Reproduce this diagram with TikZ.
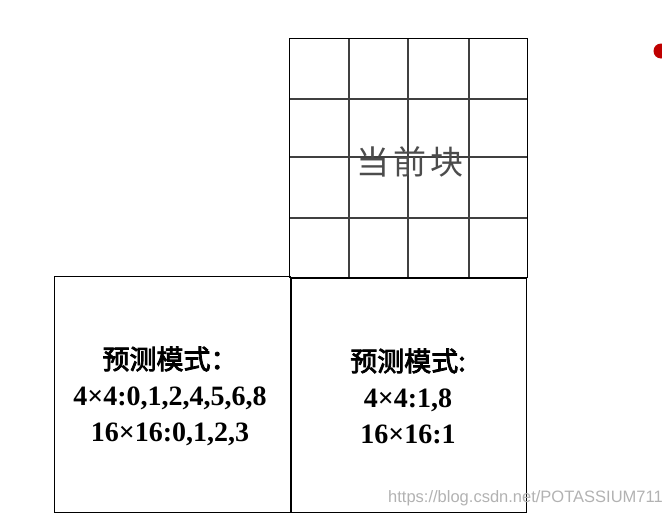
\documentclass[tikz,border=0pt]{standalone}
\usepackage{fontspec}
\setmainfont{Liberation Serif}
\newfontfamily\cjk{Noto Sans CJK SC}[AutoFakeBold=3]
\newfontfamily\wmfont{Liberation Sans}
\begin{document}
\begin{tikzpicture}[x=1pt,y=-1pt,
  box/.style={draw=black,line width=1.4pt},
  gridline/.style={draw=black!75,line width=1.1pt},
  modetext/.style={align=center,font=\fontsize{28}{36}\selectfont\bfseries,inner sep=0pt},
  cur/.style={font=\cjk\fontsize{33}{33}\selectfont,text=black!70,inner sep=0pt},
  wm/.style={font=\wmfont\fontsize{16.5}{16.5}\selectfont,text=black!30,inner sep=0pt,anchor=west}]
\useasboundingbox (0,0) rectangle (662,517);
% grid block
\foreach \x in {349,408,469} \draw[gridline] (\x,38) -- (\x,277);
\foreach \y in {99,157,218} \draw[gridline] (289,\y) -- (527,\y);
\node[box,minimum width=238pt,minimum height=239pt,anchor=north west,inner sep=0pt] (cur) at (289,38) {};
\node[cur] (curtext) at (410,162) {当\hspace{4pt}前\hspace{4pt}块};
% left box
\node[box,minimum width=236pt,minimum height=236pt,anchor=north west,inner sep=0pt] (left) at (54,276) {};
\node[modetext] (lt) at (170,396) {{\cjk\fontsize{27}{36}\selectfont\textbf{预测模式：}}\\4×4:0,1,2,4,5,6,8\\16×16:0,1,2,3};
% right box
\node[box,minimum width=235pt,minimum height=234pt,anchor=north west,inner sep=0pt] (right) at (291,278) {};
\node[modetext] (rt) at (408,396) {{\cjk\fontsize{27}{36}\selectfont\textbf{预测模式:}}\\4×4:1,8\\16×16:1};
% red dot
\fill[red!75!black] (661,51) circle (7.5pt);
% watermark
\node[wm] (wmk) at (388,498) {https://blog.csdn.net/POTASSIUM711};
\end{tikzpicture}
\end{document}
